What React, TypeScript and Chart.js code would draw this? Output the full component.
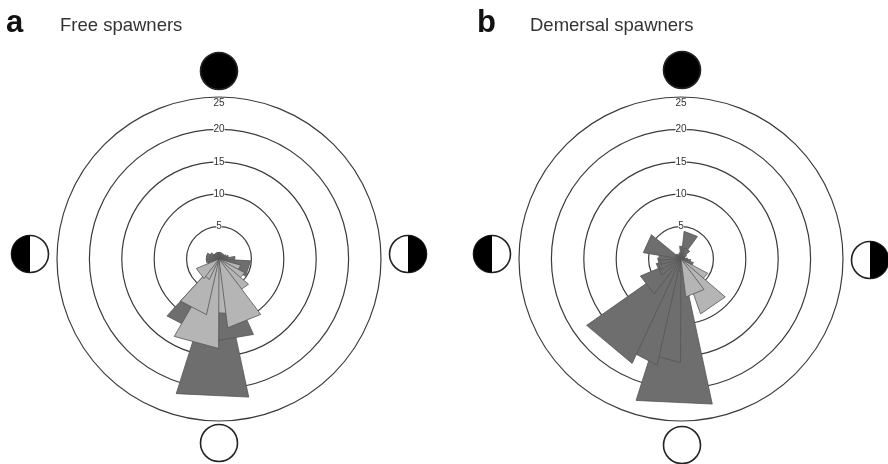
import React, { useEffect, useRef } from "react";
import { Chart, registerables } from "chart.js";

Chart.register(...registerables);

// One value per lunar day, going clockwise from just west of the full-moon direction.
const dayIndex = Array.from({ length: 29 }, (_, i) => i);
const ringTicks = [5, 10, 15, 20, 25];
const panelLetters = ["a", "b"];
const panelTitles = ["Free spawners", "Demersal spawners"];

const freeDark = [21.8, 9, 11.9, 2, 2, 1.5, 1.8, 2, 2, 1.5, 1, 1, 1, 1, 1, 1, 1, 0.8, 0.8, 1, 1.2, 1.5, 2.5, 4.9, 3, 3, 2, 4, 12.8];
const freeLight = [8.6, 13.8, 8.8, 3.5, 3.8, 0, 0, 0, 0, 0, 0, 0, 0, 0, 0, 0, 0, 0, 0, 0, 0, 0, 0, 0, 3.5, 4.5, 6, 10.7, 0];
const demersalDark = [22.9, 16, 16.8, 17.8, 6.8, 3.9, 3.6, 3.2, 3.5, 5.9, 1, 0.8, 0.6, 0.6, 1, 2, 4.3, 1.8, 1, 0.6, 0.6, 0.6, 1, 1.5, 2, 1, 1, 1, 2];
const demersalLight = [0, 0, 0, 0, 0, 0, 0, 0, 0, 0, 0, 0, 0, 0, 0, 0, 0, 0, 0, 0, 0, 0, 0, 0, 0, 4.7, 9, 5.9, 0];

const STEPS_PER_DAY = 25;
const FIRST_DAY_STEP = 368;
const HALF_WEDGE = 30;
const DARK = "#6e6e6e";
const LIGHT = "#b5b5b5";
const angleLabels = Array.from({ length: dayIndex.length * STEPS_PER_DAY }, () => "");

function wedge(day: number, value: number, fill: string) {
  const n = angleLabels.length;
  const data: (number | null)[] = angleLabels.map(() => null);
  const mid = FIRST_DAY_STEP + day * STEPS_PER_DAY;
  data[(mid - HALF_WEDGE + n) % n] = value;
  data[(mid + HALF_WEDGE) % n] = value;
  data[(mid + HALF_WEDGE + 1) % n] = 0;
  return {
    data,
    backgroundColor: fill,
    borderColor: "#555",
    borderWidth: 0.8,
    fill: "origin",
    spanGaps: true,
    pointRadius: 0,
    tension: 0,
  };
}

function wedges(dark: number[], light: number[]) {
  const drawn: ReturnType<typeof wedge>[] = [];
  dayIndex.forEach((d) => { if (dark[d] > 0) drawn.push(wedge(d, dark[d], DARK)); });
  dayIndex.forEach((d) => { if (light[d] > 0) drawn.push(wedge(d, light[d], LIGHT)); });
  return drawn.reverse(); // Chart.js paints the first dataset last
}

function moon(ctx: CanvasRenderingContext2D, x: number, y: number, phase: string) {
  const r = 18.5;
  ctx.save();
  ctx.lineWidth = 1.6;
  ctx.strokeStyle = "#222";
  ctx.fillStyle = phase === "new" ? "#000" : "#fff";
  ctx.beginPath();
  ctx.arc(x, y, r, 0, Math.PI * 2);
  ctx.fill();
  ctx.stroke();
  if (phase === "half-left" || phase === "half-right") {
    ctx.fillStyle = "#000";
    ctx.beginPath();
    if (phase === "half-left") ctx.arc(x, y, r, Math.PI / 2, (3 * Math.PI) / 2);
    else ctx.arc(x, y, r, -Math.PI / 2, Math.PI / 2);
    ctx.closePath();
    ctx.fill();
  }
  ctx.restore();
}

const panelPlugin = (letter: string, title: string, letterX: number, titleX: number, moons: { dx: number; dy: number; phase: string }[]) => ({
  id: "panelDecor",
  afterDraw(chart: any) {
    const { ctx } = chart;
    const r = chart.scales.r;
    ctx.save();
    ctx.fillStyle = "#111";
    ctx.textBaseline = "alphabetic";
    ctx.textAlign = "left";
    ctx.font = "bold 31px 'Liberation Sans'";
    ctx.fillText(letter, letterX, 32);
    ctx.font = "18.5px 'Liberation Sans'";
    ctx.fillStyle = "#333";
    ctx.fillText(title, titleX, 31);
    ctx.font = "10px 'Liberation Sans'";
    ctx.textAlign = "center";
    ctx.textBaseline = "middle";
    const top = r.yCenter - r.getDistanceFromCenterForValue(ringTicks[ringTicks.length - 1]);
    ctx.fillText(String(ringTicks[ringTicks.length - 1]), r.xCenter, top + 6.5);
    ctx.restore();
    moons.forEach((m) => moon(ctx, r.xCenter + m.dx, r.yCenter + m.dy, m.phase));
  },
});

function Panel({ index, dark, light, left, padding, moons, letterX, titleX }: any) {
  const ref = useRef<HTMLCanvasElement>(null);
  useEffect(() => {
    const chart = new Chart(ref.current!, {
      type: "radar",
      data: { labels: angleLabels, datasets: wedges(dark, light) as any },
      options: {
        animation: false,
        responsive: false,
        layout: { padding },
        plugins: { legend: { display: false }, tooltip: { enabled: false } },
        scales: {
          r: {
            min: 0,
            max: 25,
            startAngle: 0,
            angleLines: { display: false },
            pointLabels: { display: false },
            grid: { circular: true, color: "#3c3c3c", lineWidth: 1.2 },
            ticks: {
              stepSize: 5,
              color: "#333",
              font: { size: 10, family: "'Liberation Sans'" },
              backdropColor: "#fff",
              backdropPadding: 0,
              showLabelBackdrop: (c: any) => c.tick.value < 25,
              callback: (v: number) => (v < 25 ? String(v) : ""),
            },
          },
        },
      } as any,
      plugins: [panelPlugin(panelLetters[index], panelTitles[index], letterX, titleX, moons)],
    });
    return () => chart.destroy();
  }, []);
  return <canvas ref={ref} width={444} height={464} style={{ position: "absolute", left, top: 0, width: 444, height: 464 }} />;
}

export default function App() {
  return (
    <div style={{ position: "fixed", left: 0, top: 0, width: 888, height: 464, background: "#fff", overflow: "hidden" }}>
      <Panel index={0} dark={freeDark} light={freeLight} left={0} letterX={6} titleX={60}
        padding={{ left: 52, right: 58, top: 92, bottom: 38 }}
        moons={[{ dx: 0, dy: -188, phase: "new" }, { dx: -189, dy: -5, phase: "half-left" }, { dx: 189, dy: -5, phase: "half-right" }, { dx: 0, dy: 184, phase: "full" }]} />
      <Panel index={1} dark={demersalDark} light={demersalLight} left={444} letterX={33} titleX={86}
        padding={{ left: 70, right: 40, top: 92, bottom: 38 }}
        moons={[{ dx: 1, dy: -189, phase: "new" }, { dx: -189, dy: -5, phase: "half-left" }, { dx: 189, dy: 1, phase: "half-right" }, { dx: 1, dy: 186, phase: "full" }]} />
    </div>
  );
}
